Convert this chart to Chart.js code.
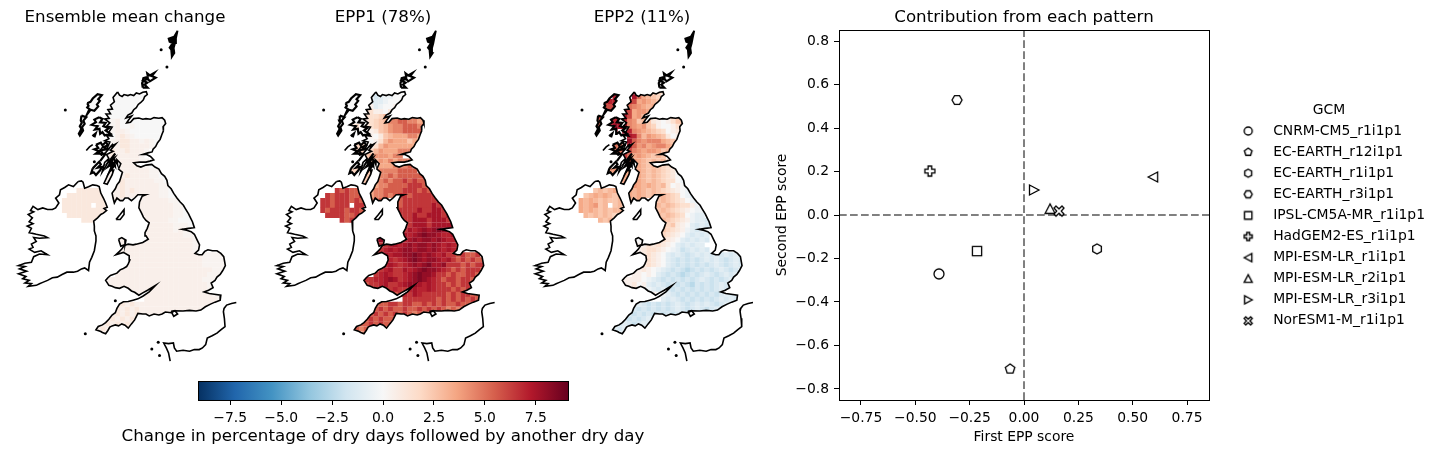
<!DOCTYPE html>
<html>
<head>
<meta charset="utf-8">
<title>Dry day persistence patterns</title>
<script src="https://cdn.jsdelivr.net/npm/chart.js@4/dist/chart.umd.min.js"></script>
<style>
  html, body { margin: 0; background: #fff; overflow: hidden; }
  canvas { position: absolute; top: 0; }
</style>
</head>
<body>
<canvas id="map0" width="250" height="375" style="left:0"></canvas>
<canvas id="map1" width="250" height="375" style="left:258px"></canvas>
<canvas id="map2" width="250" height="375" style="left:517px"></canvas>
<canvas id="colourbar" width="566" height="84" style="left:100px;top:370px"></canvas>
<canvas id="scores" width="850" height="454" style="left:599px"></canvas>
<script>
// DATA
const mapTitles = ['Ensemble mean change', 'EPP1 (78%)', 'EPP2 (11%)'];

// Grid rows of the change maps, one character per cell, '.' is no data.
// digits are whole percents, z is 0.25, a-i are 0.5 to 8.5, A-F are -0.5 to -3
const ensembleRows = [
  "...........00000", ".......00..000000", ".....0000.000000", ".....000.000000", ".....00..000000",
  "....0..0.000000000000", "....0.0000za0000000000", "....0.00.0za00z000000", "....0.00.0zaaz0000000",
  "..........0a1az0000000", "..........za11aazaz00", ".......00.za11aaaaz0", ".......00a1aa1aaaz",
  ".........a1aaaaaz", "..........aaaaaazz", "..........aaaaaazz0", "......00.aaaaaaaaazz",
  "......0..aaaa1aaaazz0", ".........aaa1aaaaaazz0", "..........aa1aaaaaaazz0", "...11111..aa1a1aaaaazz0",
  ".11111111.aa1aaaaaaazz00", "111111111.a1aa.aaaaaaazz0", "111111.11......aaaaaaaazz00",
  "111111111......aaaaaaaazz000", ".11111111.......aaaaaaazz000", "....111..........aaaaazz000",
  ".................aaaaaazzz0", ".................aaaaaazazz", ".................aaaaaaaazzz",
  "...........aa....aaaaaaaaaazzz", "............aaaaaaaaaaaaaaazz", "............aaaaaaaaaaaaaaazz",
  "...........aaaaaaaaaaaaaaaaaazzzzz", "............aaaaaaaaaaaaaaaaazzzzz", ".............aaaaaaaaaaaaaaaazzzzz",
  "............aaaaaaaaaaaaaaaaaaazzz", "...........aaaaaaaaaaaaaaaaaaazzz", ".........aaaaaaaaaaaaaaaaaaaazzz",
  ".........aaaaaaaaaaaaaaaaaaaaazz", "..........aaaaaaaaaaaaaaaaaaaazz", "..............aaaaaaaaaaaaaaaaazz",
  ".................aaaaaaaaaaaaaaazz", "...........a1a1aaaaaaaaaaaaaaaaaaa", "...........1a1a1aaaaaaaaaaaaaaaaa",
  "..........a1a1a1aaaaaaaa", ".........a1a1a1aaaaaa", "........a1a1a1aa", ".......a1a1aaa", ".......aaa"
];
const epp1Rows = [
  "...........B0AA00", ".......00..CBAA00", ".....0000.CBBA000", ".....000.aaBA00a", ".....00..bbaa01b",
  "....0..0.bbb23dddddddd", "....0.0011b2c3eeffeedd", "....0.1b.1b2c34eefffeed", "....0.b1.0a1c34eeffffed",
  "..........a01c3dddeedd", "..........0ab34dddcdc", ".......22.ab34ddddddd", ".......22b234dddeee",
  ".........c3444dee", "..........c34dedeee", "..........c3dddeeef", "......22.cc3eeeeffff",
  "......2..cc3eefefffffg", ".........cdeefeffgfgff", "..........ddeeffffgggff", "...gfgff..deeffffgggfgf",
  ".gfgggffg.deefefggfggggg", "ggfgggfgf.eeff.gfgggggggh", "ggfggg.gg......gfgggggghgh",
  "gfgggfggf......ggggghgghhgh", ".ggggffgf.......ggghgghhhgh", "....gfg..........gghhhghhhgh",
  ".................gghhhghhhhh", ".................gh7h8h8i8h7", ".................h7h8i88h77h7",
  "...........88....7h8h88h8h77h", "............gg7h7h8h88h8h7h7g", "............g7h7h88h88h8h7h7g",
  "...........g7h7hh88i8h8h7hggfgffg", "............7h7g7h8i8h88h7hgfgfgff", ".............7h7g7h8h8ihh8gggfgfgg",
  "............g7hggh7h8i88h7gfgfgggf", "...........g7h7gg7h8i88hggfgffggf", ".........gg77h8hg7h8i8h7gfggfggf",
  ".........fgg7hgg7h88h7h7ggfgfggf", "..........fgggg7gg7h77h7gggfgfgf", "..............ffg7gh7gggggfgfggff",
  ".................gggggggfgfgfgfgf", "...........fffggfggffgfgfgffgffff", "...........fgfgffgffgfgfgfefef",
  "..........fgfgfgfgfeffee", ".........fgfgfffgfffee", "........ffgfgfff", ".......feffffe", ".......eef"
];
const epp2Rows = [
  "...........74c3c2b", ".......76..h5d3c2", ".....6776.g6d4d3c", ".....667.g5e4d3d", ".....67..h6d44d3",
  "....6..7.h6d43c1bbbcc", "....5.67h7e4c3c1a0abc3", "....5.78h8e4d4c2a00ab3", "....5.87.h7e4d3c2b0a1b",
  "..........h7e34d3c10a1", "..........8fe4eeed3c1a", ".......55.7f4ed4eed3b", ".......55h6e4d44dc3b",
  ".........g5d4d3c3c", "..........f4d3c3c3b", "..........f4d3c3c2b1", "......44.dd4d3c3c2b10",
  "......4..dd3d3c3c2b10A", ".........dd4d3c3c2bb0AB", "..........d4d3d3c3b0a0AB", "...c3c3d..d3d3c3c2b1a0AB",
  ".c3d3d3c3.d3d3c3c3c2b0AB", "d3d3c3cc3.3cdc.3c3c2b10ABA", "d3d4c3.c3......d3c3c2bbaAAB",
  "d3d3c3c33......3c3c2b1a0AAB", ".3c3c3c2c.......3c3c2b0ABB", "....3c3..........3c2b1aABBC",
  ".................c2c1a0BCBC", ".................c2b1aABCBB", ".................2b1a0BCBCB",
  "...........00....b1a0BCBCBC", "............aab1b1a0BCBCBB", "............a1bb1a0ABDCBCBC",
  "...........aa1b1a0BCBCDCBCBCBCBCBC", "............a1b1a0BCDCDCDCBCBCDCBC", ".............1b1a0BCDCDCDCDCBCDCBC",
  "............a1a0ABCDCDEDCDCDCBCDCB", "...........aa0a0BCDCDEDCDCBCDCBCB", ".........aaaa0ABCDCDCDCDCBCDCDCB",
  ".........aa10aBCBCDCDCDECDCDCBCB", "..........a1a0ABCBCDCDCDCDCDCBCB", "..............0a0ABCDCDCDCDCDCBCB",
  ".................BCBCDCDCDCDCBCBC", "...........CBCDCDCDCBCDCBCBCDCBCB", "...........CDCDCDCDCBCDCBCDCBC",
  "..........CDCDCDCDCDCBCB", ".........CDCDCBCDCBCBC", "........CBCDCBCB", ".......BCBCBBC", ".......BBB"
];
const levelKeys = {z:0.25, A:-0.5, B:-1, C:-1.5, D:-2, E:-2.5, F:-3, a:0.5, b:1.5, c:2.5, d:3.5, e:4.5, f:5.5, g:6.5, h:7.5, i:8.5};

// coastlines in map units
const coastGB = [[352,218],[358,228],[366,232],[372,226],[384,229],[392,226],[402,229],[410,221],[420,224],[430,219],[441,217],[444,226],[436,232],[432,242],[424,250],[416,256],[410,266],[402,272],[396,282],[384,288],[378,297],[396,291],[386,303],[380,312],[392,310],[402,299],[418,297],[430,301],[440,299],[454,301],[465,296],[480,298],[490,296],[498,304],[501,314],[493,324],[494,336],[489,348],[484,362],[476,372],[470,384],[462,392],[459,400],[446,403],[430,408],[442,408],[454,414],[464,424],[452,428],[440,431],[420,431],[402,433],[412,442],[424,446],[440,440],[458,438],[468,446],[480,452],[488,466],[498,474],[505,486],[508,502],[518,512],[526,526],[536,540],[546,552],[556,562],[562,572],[572,588],[578,600],[584,612],[590,630],[572,632],[552,635],[566,638],[580,642],[590,650],[598,666],[606,682],[603,698],[592,708],[604,712],[614,712],[622,702],[632,697],[646,700],[660,700],[672,708],[681,718],[686,745],[678,760],[670,772],[660,780],[654,790],[642,798],[648,812],[634,820],[620,825],[636,830],[652,832],[672,835],[670,850],[654,856],[640,862],[624,870],[610,880],[595,883],[575,881],[555,883],[530,882],[518,888],[500,886],[490,892],[480,895],[465,892],[450,898],[440,892],[430,892],[415,890],[410,900],[405,910],[395,922],[385,935],[375,926],[365,922],[355,928],[345,925],[335,928],[328,932],[322,942],[315,952],[305,948],[300,945],[285,940],[292,930],[305,925],[315,918],[325,908],[335,895],[345,888],[350,875],[358,862],[370,855],[385,854],[400,850],[415,846],[430,838],[450,825],[470,805],[445,820],[430,828],[418,835],[405,826],[395,822],[385,814],[372,808],[358,814],[345,812],[335,808],[325,805],[315,790],[322,782],[330,775],[350,768],[360,758],[368,755],[380,748],[385,740],[390,728],[388,715],[370,705],[347,712],[358,702],[365,695],[372,684],[385,680],[400,682],[410,680],[430,675],[447,665],[440,655],[437,645],[444,632],[450,615],[440,608],[432,598],[426,585],[418,570],[420,552],[428,535],[440,530],[415,530],[405,540],[395,548],[385,540],[375,540],[368,548],[360,548],[350,540],[342,555],[338,540],[335,525],[345,512],[350,500],[358,490],[362,478],[367,462],[355,452],[362,436],[350,424],[352,440],[342,420],[345,445],[335,430],[335,455],[325,425],[315,445],[304,462],[312,432],[325,420],[318,408],[338,398],[330,395],[346,376],[328,386],[338,375],[315,402],[302,410],[294,400],[306,385],[318,392],[328,370],[312,366],[325,360],[318,350],[335,352],[325,340],[335,325],[318,322],[328,312],[312,300],[326,298],[316,285],[330,284],[322,272],[336,270],[330,258],[342,248],[338,235],[352,218]];
const coastIreland = [[230,490],[240,488],[245,492],[250,510],[262,506],[275,500],[288,502],[295,505],[300,525],[308,540],[315,555],[320,568],[310,572],[318,578],[308,586],[300,590],[290,600],[278,610],[280,625],[280,640],[285,655],[285,670],[280,700],[272,720],[265,735],[262,760],[250,752],[240,755],[228,762],[215,765],[195,765],[180,772],[165,780],[150,782],[135,790],[120,796],[110,800],[100,805],[75,808],[85,800],[65,798],[78,790],[58,785],[68,778],[45,770],[70,762],[48,755],[65,748],[45,745],[65,738],[85,735],[92,718],[110,710],[135,712],[115,700],[95,705],[78,695],[90,690],[85,680],[100,672],[92,660],[110,662],[135,660],[125,655],[100,650],[78,645],[85,632],[72,625],[90,618],[78,612],[88,600],[75,590],[92,582],[82,578],[90,565],[105,575],[120,570],[135,575],[150,575],[160,570],[170,555],[160,540],[172,530],[175,515],[188,508],[200,500],[215,505],[230,490]];
const coastFrance = [[720,857],[705,860],[690,865],[682,875],[680,885],[683,905],[685,930],[672,940],[660,950],[645,958],[630,965],[625,985],[615,995],[605,1000],[590,1000],[575,1005],[555,1002],[535,1005],[528,995],[525,980],[510,982],[495,980],[503,995],[510,1010],[515,1035]];
const coastLewis = [[258,252],[268,248],[275,238],[290,225],[303,228],[292,240],[297,245],[288,256],[292,262],[280,275],[268,272],[258,285],[265,270],[258,265],[262,260],[258,252]];
const coastUist = [[240,290],[255,295],[246,305],[250,315],[242,325],[245,335],[235,350],[232,345],[240,330],[235,322],[241,312],[238,305],[240,290]];
const coastSkye = [[295,295],[305,300],[298,310],[315,312],[308,322],[325,328],[315,335],[330,345],[312,350],[305,340],[298,345],[296,330],[282,332],[290,322],[272,318],[285,310],[280,302],[295,295]];
const coastMull = [[285,378],[300,372],[305,380],[316,370],[322,380],[310,385],[320,392],[300,395],[306,405],[285,405],[295,398],[280,392],[292,388],[285,378]];
const coastTiree = [[255,396],[265,385],[275,378]];
const coastSmallIsles = [[274,352],[284,344],[280,356]];
const coastJura = [[275,450],[285,440],[295,430],[300,438],[290,448],[305,445],[298,456],[285,470],[278,462],[270,465],[275,450]];
const coastSound = [[298,428],[310,412],[316,404]];
const coastLochs = [[345,405],[325,430],[340,420],[322,445],[338,435],[328,458],[344,440]];
const coastKintyre = [[330,455],[322,470],[310,495],[320,498],[335,470],[340,455],[330,455]];
const coastMan = [[347,605],[360,590],[372,575],[372,590],[360,605],[347,605]];
const coastAnglesey = [[355,665],[365,660],[378,668],[375,682],[362,686],[355,665]];
const coastWight = [[518,884],[530,882],[538,892],[526,899],[518,884]];
const coastOrkney = [[430,205],[445,205],[436,196],[444,190],[432,184],[446,178],[452,186],[470,175],[458,170],[466,160],[452,168],[444,162],[446,172],[432,176],[428,192],[430,205]];
const coastShetland = [[538,32],[527,50],[510,56],[513,66],[522,70],[513,84],[518,90],[520,112],[528,100],[526,85],[530,70],[533,55],[538,32]];
const islandDots = [[487,90],[505,142],[190,273],[252,952],[345,852],[478,978],[458,998],[482,1018],[280,430]];

const allCoasts = [coastGB, coastIreland, coastFrance, coastTiree, coastKintyre, coastMan, coastAnglesey, coastWight];
// the crowded islands and sea lochs read as heavier lines
const heavyCoasts = [coastLewis, coastUist, coastSkye, coastMull, coastSmallIsles, coastJura, coastSound, coastLochs, coastOrkney];
// only these shapes hold grid cells
const landShapes = [coastGB, coastIreland, coastLewis, coastUist, coastSkye, coastMull, coastJura, coastKintyre, coastAnglesey];

// scatter scores
const gcmNames = ['CNRM-CM5_r1i1p1', 'EC-EARTH_r12i1p1', 'EC-EARTH_r1i1p1', 'EC-EARTH_r3i1p1', 'IPSL-CM5A-MR_r1i1p1', 'HadGEM2-ES_r1i1p1', 'MPI-ESM-LR_r1i1p1', 'MPI-ESM-LR_r2i1p1', 'MPI-ESM-LR_r3i1p1', 'NorESM1-M_r1i1p1'];
const firstScore = [-0.391, -0.064, 0.336, -0.308, -0.216, -0.433, 0.594, 0.12, 0.046, 0.161];
const secondScore = [-0.271, -0.708, -0.156, 0.529, -0.166, 0.202, 0.175, 0.028, 0.115, 0.018];
const gcmShapes = ['circle', 'pentagon', 'hexagon', 'hexagon2', 'square', 'plus', 'left', 'up', 'right', 'cross'];
const xTickValues = [-0.75, -0.5, -0.25, 0, 0.25, 0.5, 0.75];
const yTickValues = [-0.8, -0.6, -0.4, -0.2, 0, 0.2, 0.4, 0.6, 0.8];
const barTickValues = [-7.5, -5, -2.5, 0, 2.5, 5, 7.5];
const scoreLimit = 0.851;
const barLimit = 9.08;

// RdBu_r colour map
const rdbu = [[5,48,97],[33,102,172],[67,147,195],[146,197,222],[209,229,240],[247,247,247],[253,219,199],[244,165,130],[214,96,77],[178,24,43],[103,0,31]];

Chart.defaults.font.family = "'DejaVu Sans'";
Chart.defaults.color = '#000';
Chart.defaults.animation = false;

const colourFor = (v) => {
    let pos = (v + barLimit) / (2 * barLimit) * 10;
    pos = Math.max(0, Math.min(10, pos));
    const i = Math.min(9, Math.floor(pos));
    const f = pos - i;
    const c = rdbu[i].map((a, k) => Math.round(a + (rdbu[i + 1][k] - a) * f));
    return 'rgb(' + c.join(',') + ')';
};

const readLevel = (ch) => (ch in levelKeys ? levelKeys[ch] : Number(ch));

const toPoints = (pairs) => pairs.map((p) => ({x: p[0], y: p[1]}));

// keeps the grid cells inside the coast
const landClip = {
    id: 'landClip',
    beforeDatasetDraw(chart, args) {
        if (chart.data.datasets[args.index].label !== 'cells') return;
        const ctx = chart.ctx;
        const sx = chart.scales.x, sy = chart.scales.y;
        ctx.save();
        ctx.beginPath();
        landShapes.forEach((shape) => {
            shape.forEach((p, i) => {
                const px = sx.getPixelForValue(p[0]), py = sy.getPixelForValue(p[1]);
                if (i === 0) ctx.moveTo(px, py); else ctx.lineTo(px, py);
            });
            ctx.closePath();
        });
        ctx.clip();
    },
    afterDatasetDraw(chart, args) {
        if (chart.data.datasets[args.index].label === 'cells') chart.ctx.restore();
    }
};

const axesFrame = {
    id: 'axesFrame',
    afterDatasetsDraw(chart) {
        const a = chart.chartArea, ctx = chart.ctx;
        ctx.save();
        ctx.strokeStyle = '#000';
        ctx.lineWidth = 1;
        ctx.strokeRect(a.left + 0.5, a.top + 0.5, a.right - a.left, a.bottom - a.top);
        ctx.restore();
    }
};

const makeMap = (id, title, rows, xStart) => {
    const cells = [], colours = [];
    rows.forEach((row, r) => {
        row.split('').forEach((ch, c) => {
            if (ch === '.') return;
            cells.push({x: 187.5 + 15 * c, y: 217.5 + 15 * r});
            colours.push(colourFor(readLevel(ch)));
        });
    });
    const datasets = allCoasts.map((shape) => ({
        data: toPoints(shape), showLine: true, pointRadius: 0, borderColor: '#000', borderWidth: 1.6, tension: 0, order: 0
    }));
    heavyCoasts.forEach((shape) => datasets.push({
        data: toPoints(shape), showLine: true, pointRadius: 0, borderColor: '#000', borderWidth: 2.2, tension: 0, order: 0
    }));
    datasets.push({data: toPoints(coastShetland), showLine: true, pointRadius: 0, borderColor: '#000', borderWidth: 1.8, backgroundColor: '#000', fill: 'shape', order: 0});
    datasets.push({data: toPoints(islandDots), pointRadius: 1.5, pointBackgroundColor: '#000', pointBorderWidth: 0, order: 0});
    datasets.push({label: 'cells', data: cells, pointStyle: 'rect', pointRadius: 3.62, pointBackgroundColor: colours, pointBorderWidth: 0, order: 5});
    return new Chart(document.getElementById(id), {
        type: 'scatter',
        data: {datasets: datasets},
        plugins: [landClip],
        options: {
            responsive: false,
            layout: {padding: 0},
            plugins: {
                legend: {display: false},
                tooltip: {enabled: false},
                title: {display: true, text: title, font: {size: 16.67, weight: 'normal'}, padding: {top: 8, bottom: 2}}
            },
            scales: {
                x: {display: false, min: xStart, max: xStart + 750},
                y: {display: false, reverse: true, min: 30, max: 1065}
            }
        }
    });
};

makeMap('map0', mapTitles[0], ensembleRows, 0);
makeMap('map1', mapTitles[1], epp1Rows, -1);
makeMap('map2', mapTitles[2], epp2Rows, 1);

const hiddenSide = (position, width) => ({
    type: 'linear',
    position: position,
    ticks: {display: false},
    grid: {display: false},
    border: {display: false},
    afterFit: (s) => { s.width = width; }
});

// COLOUR BAR
new Chart(document.getElementById('colourbar'), {
    type: 'bar',
    data: {
        labels: [''],
        datasets: [{
            data: [[-barLimit, barLimit]],
            barPercentage: 1,
            categoryPercentage: 1,
            borderWidth: 0,
            backgroundColor: (c) => {
                const a = c.chart.chartArea;
                if (!a) return '#fff';
                const g = c.chart.ctx.createLinearGradient(a.left, 0, a.right, 0);
                rdbu.forEach((col, i) => g.addColorStop(i / 10, 'rgb(' + col.join(',') + ')'));
                return g;
            }
        }]
    },
    plugins: [axesFrame],
    options: {
        indexAxis: 'y',
        responsive: false,
        layout: {padding: {top: 11}},
        plugins: {
            legend: {display: false},
            tooltip: {enabled: false},
            title: {display: true, position: 'bottom', text: 'Change in percentage of dry days followed by another dry day', font: {size: 16.67, weight: 'normal'}, padding: {top: 0, bottom: 7}}
        },
        scales: {
            y: {
                type: 'category',
                position: 'left',
                ticks: {display: false},
                grid: {display: false},
                border: {display: false},
                afterFit: (s) => { s.width = 98; }
            },
            spare: hiddenSide('right', 98),
            x: {
                min: -barLimit,
                max: barLimit,
                afterBuildTicks: (s) => { s.ticks = barTickValues.map((v) => ({value: v})); },
                afterFit: (s) => { s.height = 27; },
                border: {display: false},
                grid: {drawOnChartArea: false, tickLength: 5, tickColor: '#000', tickWidth: 1},
                ticks: {
                    autoSkip: false, maxRotation: 0, padding: 5, font: {size: 13.89},
                    callback: (v) => v.toFixed(1).replace('-', '\u2212')
                }
            }
        }
    }
});

// MARKERS
const markerPaths = {
    pentagon: [[0,-1],[0.951,-0.309],[0.588,0.809],[-0.588,0.809],[-0.951,-0.309]],
    hexagon: [[0,-1],[0.866,-0.5],[0.866,0.5],[0,1],[-0.866,0.5],[-0.866,-0.5]],
    hexagon2: [[0.5,-0.866],[1,0],[0.5,0.866],[-0.5,0.866],[-1,0],[-0.5,-0.866]],
    square: [[-0.92,-0.92],[0.92,-0.92],[0.92,0.92],[-0.92,0.92]],
    plus: [[-0.36,-1],[0.36,-1],[0.36,-0.36],[1,-0.36],[1,0.36],[0.36,0.36],[0.36,1],[-0.36,1],[-0.36,0.36],[-1,0.36],[-1,-0.36],[-0.36,-0.36]],
    left: [[-1,0],[0.9,-1],[0.9,1]],
    right: [[1,0],[-0.9,-1],[-0.9,1]],
    up: [[0,-1],[1,0.9],[-1,0.9]],
    cross: [[-0.6,-1],[0,-0.45],[0.6,-1],[1,-0.6],[0.45,0],[1,0.6],[0.6,1],[0,0.45],[-0.6,1],[-1,0.6],[-0.45,0],[-1,-0.6]]
};

const makeMarker = (shape, radius, lineWidth) => {
    const c = document.createElement('canvas');
    c.width = c.height = 2 * Math.ceil(radius + lineWidth + 1);
    const ctx = c.getContext('2d');
    ctx.translate(c.width / 2, c.height / 2);
    ctx.beginPath();
    if (shape === 'circle') {
        ctx.arc(0, 0, radius, 0, Math.PI * 2);
    } else {
        markerPaths[shape].forEach((p, i) => {
            if (i === 0) ctx.moveTo(p[0] * radius, p[1] * radius); else ctx.lineTo(p[0] * radius, p[1] * radius);
        });
        ctx.closePath();
    }
    ctx.fillStyle = '#fff';
    ctx.fill();
    ctx.strokeStyle = '#000';
    ctx.lineWidth = lineWidth;
    ctx.stroke();
    return c;
};

// SCORES
const scoreSets = gcmNames.map((name, i) => ({
    label: name,
    data: [{x: firstScore[i], y: secondScore[i]}],
    pointStyle: makeMarker(gcmShapes[i], 5, 1.3),
    order: 20 - i
}));
const dashed = {showLine: true, pointRadius: 0, borderColor: '#808080', borderWidth: 2, borderDash: [7.7, 3.3], order: 50};
scoreSets.push(Object.assign({label: 'v', data: [{x: 0, y: -scoreLimit}, {x: 0, y: scoreLimit}]}, dashed));
scoreSets.push(Object.assign({label: 'h', data: [{x: -scoreLimit, y: 0}, {x: scoreLimit, y: 0}]}, dashed));

// the legend box takes a fixed width so the axes stay where they should,
// then it moves down and in to sit beside the axes
const legendPlace = {
    id: 'legendPlace',
    beforeLayout(chart) {
        const legend = chart.legend;
        if (legend.fixedFit) return;
        const fit = legend.fit.bind(legend);
        legend.fit = () => { fit(); legend.width = 240; };
        legend.fixedFit = true;
    },
    afterLayout(chart) {
        const legend = chart.legend;
        legend.left += 14;
        legend.width -= 28;
        legend.top = 103;
    }
};

new Chart(document.getElementById('scores'), {
    type: 'scatter',
    data: {datasets: scoreSets},
    plugins: [axesFrame, legendPlace],
    options: {
        responsive: false,
        plugins: {
            tooltip: {enabled: false},
            title: {display: true, text: 'Contribution from each pattern', font: {size: 16.67, weight: 'normal'}, padding: {top: 8, bottom: 2}},
            legend: {
                position: 'right',
                align: 'start',
                maxWidth: 240,
                title: {display: true, text: 'GCM', font: {size: 13.89, lineHeight: 1}, padding: 0},
                labels: {
                    usePointStyle: true,
                    pointStyleWidth: 36,
                    padding: 7.2,
                    font: {size: 13.89},
                    generateLabels: () => gcmNames.map((name, i) => ({
                        text: name,
                        datasetIndex: i,
                        pointStyle: makeMarker(gcmShapes[i], 4, 1.4),
                        lineWidth: 0
                    }))
                }
            }
        },
        scales: {
            x: {
                min: -scoreLimit,
                max: scoreLimit,
                afterBuildTicks: (s) => { s.ticks = xTickValues.map((v) => ({value: v})); },
                afterFit: (s) => { s.height = 54; },
                border: {display: false},
                grid: {drawOnChartArea: false, tickLength: 5, tickColor: '#000', tickWidth: 1},
                ticks: {
                    autoSkip: false, maxRotation: 0, padding: 5, font: {size: 13.89},
                    callback: (v) => v.toFixed(2).replace('-', '\u2212')
                },
                title: {display: true, text: 'First EPP score', font: {size: 13.89}, padding: {top: 0, bottom: 8}}
            },
            y: {
                min: -scoreLimit,
                max: scoreLimit,
                afterBuildTicks: (s) => { s.ticks = yTickValues.map((v) => ({value: v})); },
                afterFit: (s) => { s.width = 240; },
                border: {display: false},
                grid: {drawOnChartArea: false, tickLength: 5, tickColor: '#000', tickWidth: 1},
                ticks: {
                    autoSkip: false, padding: 5, font: {size: 13.89},
                    callback: (v) => v.toFixed(1).replace('-', '\u2212')
                },
                title: {display: true, text: 'Second EPP score', font: {size: 13.89}, padding: {top: 175, bottom: 0}}
            }
        }
    }
});
</script>
</body>
</html>
